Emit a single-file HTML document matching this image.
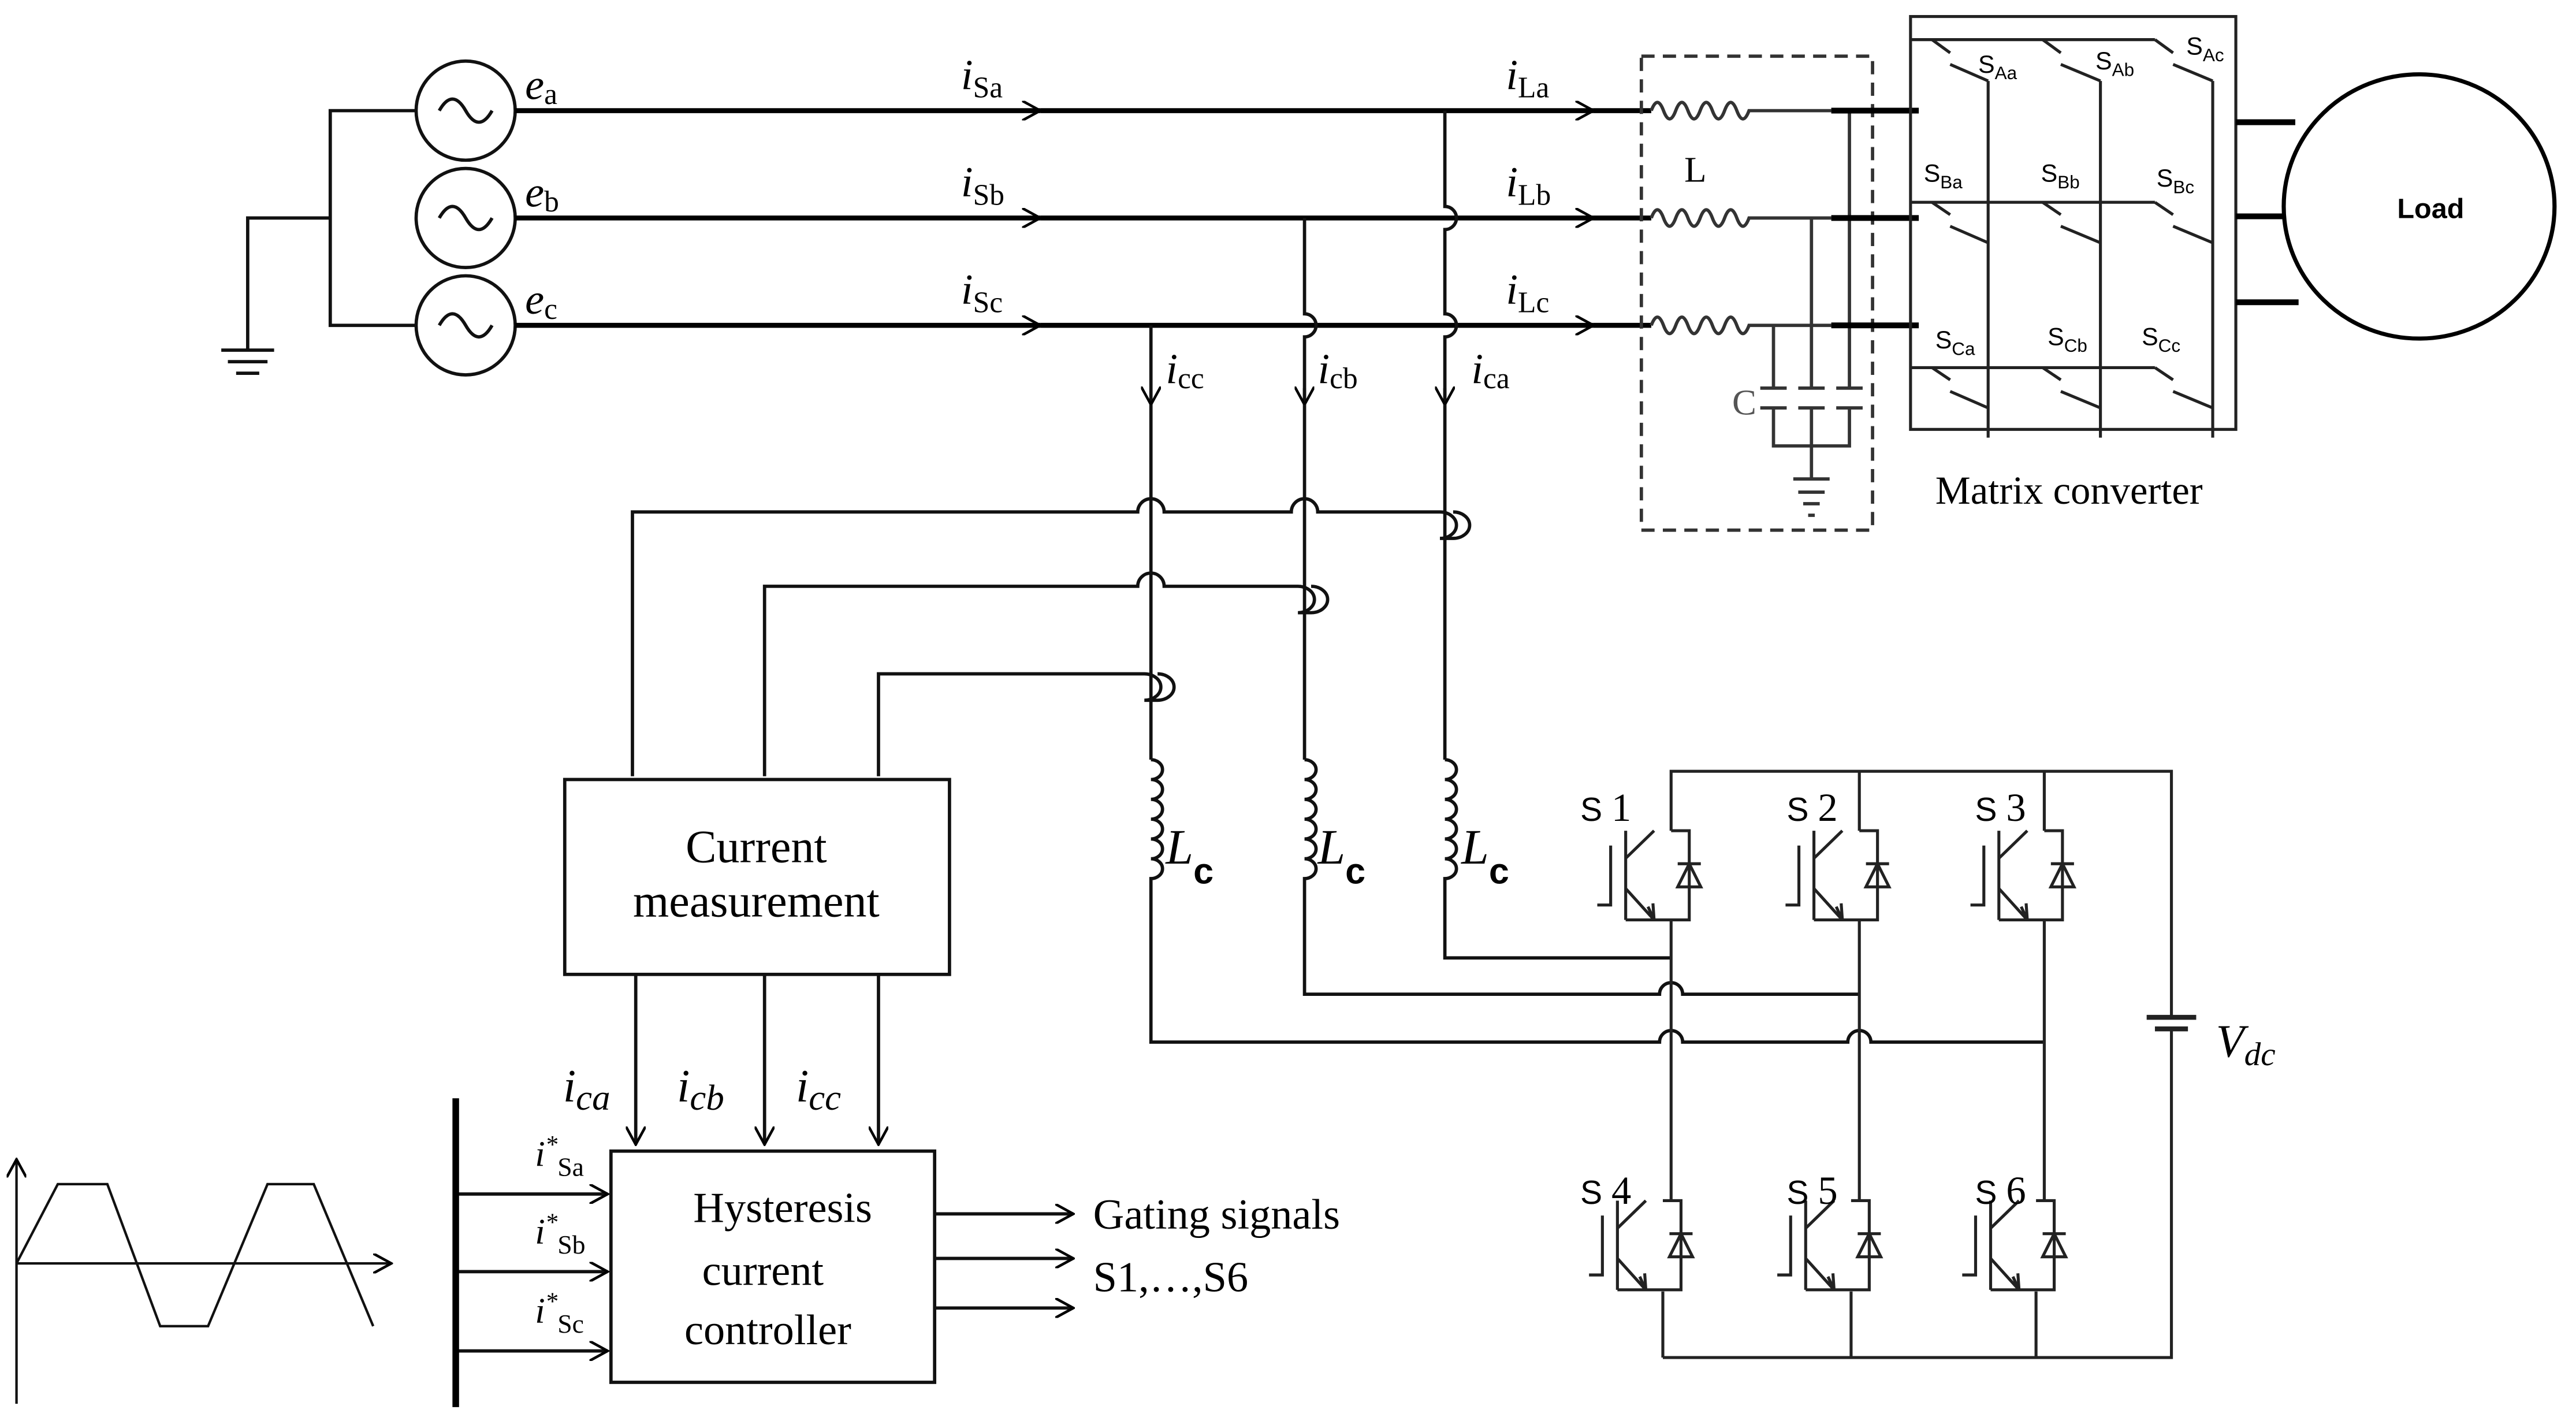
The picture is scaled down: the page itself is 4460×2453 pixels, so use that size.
<!DOCTYPE html>
<html><head><meta charset="utf-8"><style>
html,body{margin:0;padding:0;background:#fff}
svg{display:block}
.s{font-family:"Liberation Serif",serif}
.a{font-family:"Liberation Sans",sans-serif}
</style></head><body>
<svg width="4460" height="2453" viewBox="0 0 1560 858" preserveAspectRatio="none" xmlns="http://www.w3.org/2000/svg">
<defs>
<marker id="ar" viewBox="0 0 12 12" refX="11" refY="6" markerWidth="12" markerHeight="12" markerUnits="userSpaceOnUse" orient="auto">
<path d="M0,0 L11,6 L0,12" fill="none" stroke="#000" stroke-width="1.6"/></marker>
<g id="igbt" fill="none" stroke="#222" stroke-width="1.8">
<path d="M0,0 H11 V54 H-27.5 M-27.5,0 V54 M-27.5,16.7 L-10.3,0 M-27.5,35 L-10.3,54 M-14,46 L-10.3,54 L-11,44 M-36.6,9 V45 H-44.7"/>
<path d="M4,20 H18 M11,20 L4,34 H18 Z"/>
</g>
</defs>
<rect width="1560" height="858" fill="#fff"/>
<g fill="none" stroke="#111" stroke-width="2">
<path d="M252,67 H200 V197 H252 M200,132 H150 V212"/>
<path d="M134,212 H166 M138,219 H162 M143,226 H157"/>
<circle cx="282" cy="67" r="30"/><circle cx="282" cy="132" r="30"/><circle cx="282" cy="197" r="30"/>
<path d="M266,67 q8,-14 16,0 t16,0 M266,132 q8,-14 16,0 t16,0 M266,197 q8,-14 16,0 t16,0"/>
</g>
<g fill="none" stroke="#000" stroke-width="3">
<path d="M312,67 H630" marker-end="url(#ar)"/><path d="M630,67 H965" marker-end="url(#ar)"/><path d="M965,67 H1000"/>
<path d="M312,132 H630" marker-end="url(#ar)"/><path d="M630,132 H965" marker-end="url(#ar)"/><path d="M965,132 H1000"/>
<path d="M312,197 H630" marker-end="url(#ar)"/><path d="M630,197 H965" marker-end="url(#ar)"/><path d="M965,197 H1000"/>
</g>
<g fill="none" stroke="#111" stroke-width="2">
<path d="M875,67 V125 a7,7 0 0 1 0,14 V190 a7,7 0 0 1 0,14 V245" /><path d="M875,235 V245" marker-end="url(#ar)"/>
<path d="M790,132 V190 a7,7 0 0 1 0,14 V245" /><path d="M790,235 V245" marker-end="url(#ar)"/>
<path d="M697,197 V245" marker-end="url(#ar)"/>
<path d="M697,245 V460 M790,245 V460 M875,245 V460"/>
<path d="M697,460 a7,6 0 0 1 0,12 a7,6 0 0 1 0,12 a7,6 0 0 1 0,12 a7,6 0 0 1 0,12 a7,6 0 0 1 0,12 a7,6 0 0 1 0,12 V631 H1005 a7,7 0 0 1 14,0 H1119 a7,7 0 0 1 14,0 H1238"/>
<path d="M790,460 a7,6 0 0 1 0,12 a7,6 0 0 1 0,12 a7,6 0 0 1 0,12 a7,6 0 0 1 0,12 a7,6 0 0 1 0,12 a7,6 0 0 1 0,12 V602 H1005 a7,7 0 0 1 14,0 H1126"/>
<path d="M875,460 a7,6 0 0 1 0,12 a7,6 0 0 1 0,12 a7,6 0 0 1 0,12 a7,6 0 0 1 0,12 a7,6 0 0 1 0,12 a7,6 0 0 1 0,12 V580 H1012"/>
<path d="M383,470 V310 H689 a8,8 0 0 1 16,0 H782 a8,8 0 0 1 16,0 H872 a10,8 0 0 1 0,16 H880 a10,8 0 0 0 0,-16"/>
<path d="M463,470 V355 H689 a8,8 0 0 1 16,0 H786 a10,8 0 0 1 0,16 H794 a10,8 0 0 0 0,-16"/>
<path d="M532,470 V408 H693 a10,8 0 0 1 0,16 H701 a10,8 0 0 0 0,-16"/>
<rect x="342" y="472" width="233" height="118"/>
<path d="M385,590 V693" marker-end="url(#ar)"/><path d="M463,590 V693" marker-end="url(#ar)"/><path d="M532,590 V693" marker-end="url(#ar)"/>
<rect x="370" y="697" width="196" height="140"/>
<path d="M276,723 H368" marker-end="url(#ar)"/><path d="M276,770 H368" marker-end="url(#ar)"/><path d="M276,818 H368" marker-end="url(#ar)"/>
<path d="M566,735 H650" marker-end="url(#ar)"/><path d="M566,762 H650" marker-end="url(#ar)"/><path d="M566,792 H650" marker-end="url(#ar)"/>
<path d="M10,850 V702" marker-end="url(#ar)" stroke-width="1.5"/><path d="M10,765 H237" marker-end="url(#ar)" stroke-width="1.5"/>
<path d="M10,765 L35,717 H65 L97,803 H126 L162,717 H190 L226,803" stroke-width="1.5"/>
</g>
<path d="M276,665 V852" stroke="#000" stroke-width="4"/>
<g fill="none" stroke="#222" stroke-width="1.8">
<path d="M1012,503 V467 H1315 V616 M1315,623 V822 H1007 M1126,467 V503 M1238,467 V503"/>
<path d="M1300,616 H1330 M1305,623 H1325" stroke-width="3"/>
<path d="M1012,557 V727 M1126,557 V727 M1238,557 V727"/>
<path d="M1007,782 V822 M1121,782 V822 M1233,782 V822"/>
</g>
<use href="#igbt" x="1012" y="503"/><use href="#igbt" x="1126" y="503"/><use href="#igbt" x="1238" y="503"/>
<use href="#igbt" x="1007" y="727"/><use href="#igbt" x="1121" y="727"/><use href="#igbt" x="1233" y="727"/>
<g fill="none" stroke="#333" stroke-width="2">
<rect x="994" y="34" width="140" height="287" stroke-dasharray="8,5"/>
<path d="M1000,67 q3.7,-10 7.4,0 t7.4,0 t7.4,0 t7.4,0 t7.4,0 t7.4,0 t7.4,0 t7.4,0 H1109"/>
<path d="M1000,132 q3.7,-10 7.4,0 t7.4,0 t7.4,0 t7.4,0 t7.4,0 t7.4,0 t7.4,0 t7.4,0 H1109"/>
<path d="M1000,197 q3.7,-10 7.4,0 t7.4,0 t7.4,0 t7.4,0 t7.4,0 t7.4,0 t7.4,0 t7.4,0 H1109"/>
<path d="M1120,67 V235 M1097,132 V235 M1074,197 V235 M1066,235 H1082 M1089,235 H1105 M1112,235 H1128 M1066,247 H1082 M1089,247 H1105 M1112,247 H1128 M1074,247 V270 H1120 V247 M1097,247 V290"/>
<path d="M1086,290 H1108 M1089,298 H1105 M1092,305 H1102 M1095,312 H1099"/>
</g>
<path d="M1109,67 H1162 M1109,132 H1162 M1109,197 H1162" stroke="#000" stroke-width="3.5"/>
<g fill="none" stroke="#222" stroke-width="1.8">
<rect x="1157" y="10" width="197" height="250"/>
<path d="M1204,49 V265 M1272,49 V265 M1340,49 V265"/>
<path d="M1157,24 H1305 M1157,122.5 H1305 M1157,222.6 H1305"/>
<path d="M1170,24 L1181,32 M1181,39 L1204,49 M1237,24 L1248,32 M1248,39 L1272,49 M1305,24 L1316,32 M1316,39 L1340,49"/>
<path d="M1170,122.5 L1181,130 M1181,137 L1204,147 M1237,122.5 L1248,130 M1248,137 L1272,147 M1305,122.5 L1316,130 M1316,137 L1340,147"/>
<path d="M1170,222.6 L1181,230 M1181,237 L1204,247 M1237,222.6 L1248,230 M1248,237 L1272,247 M1305,222.6 L1316,230 M1316,237 L1340,247"/>
<ellipse cx="1465" cy="125" rx="82" ry="80" stroke="#000" stroke-width="2.5"/>
</g>
<path d="M1354,74 H1390 M1354,131 H1383 M1354,183 H1392" stroke="#000" stroke-width="3.5"/>
<g class="s" font-style="italic" font-size="26" fill="#000">
<text x="318" y="60">e<tspan font-size="18" dy="3" font-style="normal">a</tspan></text>
<text x="318" y="125">e<tspan font-size="18" dy="3" font-style="normal">b</tspan></text>
<text x="318" y="190">e<tspan font-size="18" dy="3" font-style="normal">c</tspan></text>
<text x="582" y="54">i<tspan font-size="18" dy="5" font-style="normal">Sa</tspan></text>
<text x="582" y="119">i<tspan font-size="18" dy="5" font-style="normal">Sb</tspan></text>
<text x="582" y="184">i<tspan font-size="18" dy="5" font-style="normal">Sc</tspan></text>
<text x="912" y="54">i<tspan font-size="18" dy="5" font-style="normal">La</tspan></text>
<text x="912" y="119">i<tspan font-size="18" dy="5" font-style="normal">Lb</tspan></text>
<text x="912" y="184">i<tspan font-size="18" dy="5" font-style="normal">Lc</tspan></text>
<text x="706" y="232">i<tspan font-size="18" dy="3" font-style="normal">cc</tspan></text>
<text x="798" y="232">i<tspan font-size="18" dy="3" font-style="normal">cb</tspan></text>
<text x="891" y="232">i<tspan font-size="18" dy="3" font-style="normal">ca</tspan></text>
<text x="706" y="523" font-size="30">L<tspan class="a" font-style="normal" font-weight="bold" font-size="22" dy="12">c</tspan></text>
<text x="798" y="523" font-size="30">L<tspan class="a" font-style="normal" font-weight="bold" font-size="22" dy="12">c</tspan></text>
<text x="885" y="523" font-size="30">L<tspan class="a" font-style="normal" font-weight="bold" font-size="22" dy="12">c</tspan></text>
<text x="341" y="667" font-size="28">i<tspan font-size="22" dy="5">ca</tspan></text>
<text x="410" y="667" font-size="28">i<tspan font-size="22" dy="5">cb</tspan></text>
<text x="482" y="667" font-size="28">i<tspan font-size="22" dy="5">cc</tspan></text>
<text x="324" y="706" font-size="22">i<tspan font-size="15" dy="-8">*</tspan><tspan font-size="16" dy="14" font-style="normal">Sa</tspan></text>
<text x="324" y="753" font-size="22">i<tspan font-size="15" dy="-8">*</tspan><tspan font-size="16" dy="14" font-style="normal">Sb</tspan></text>
<text x="324" y="801" font-size="22">i<tspan font-size="15" dy="-8">*</tspan><tspan font-size="16" dy="14" font-style="normal">Sc</tspan></text>
<text x="1342" y="640" font-size="28">V<tspan font-size="20" dy="5">dc</tspan></text>
</g>
<g class="s" fill="#000" font-size="28" text-anchor="middle">
<text x="458" y="522">Current</text><text x="458" y="555">measurement</text>
<text x="474" y="740" font-size="26">Hysteresis</text>
<text x="462" y="778" font-size="26">current</text>
<text x="465" y="814" font-size="26">controller</text>
</g>
<g class="s" fill="#000" font-size="26">
<text x="662" y="744">Gating signals</text>
<text x="662" y="782">S1,…,S6</text>
<text x="1172" y="305" font-size="24">Matrix converter</text>
<text x="1020" y="110" font-size="22">L</text>
<text x="1049" y="251" font-size="22" fill="#555">C</text>
</g>
<g class="a" fill="#000" font-size="20">
<text x="957" y="497">S <tspan class="s" font-size="24">1</tspan></text>
<text x="1082" y="497">S <tspan class="s" font-size="24">2</tspan></text>
<text x="1196" y="497">S <tspan class="s" font-size="24">3</tspan></text>
<text x="957" y="729">S <tspan class="s" font-size="24">4</tspan></text>
<text x="1082" y="729">S <tspan class="s" font-size="24">5</tspan></text>
<text x="1196" y="729">S <tspan class="s" font-size="24">6</tspan></text>
</g>
<g class="a" fill="#000" font-size="15">
<text x="1198" y="44">S<tspan font-size="11" dy="4">Aa</tspan></text>
<text x="1269" y="42">S<tspan font-size="11" dy="4">Ab</tspan></text>
<text x="1324" y="33">S<tspan font-size="11" dy="4">Ac</tspan></text>
<text x="1165" y="110">S<tspan font-size="11" dy="4">Ba</tspan></text>
<text x="1236" y="110">S<tspan font-size="11" dy="4">Bb</tspan></text>
<text x="1306" y="113">S<tspan font-size="11" dy="4">Bc</tspan></text>
<text x="1172" y="211">S<tspan font-size="11" dy="4">Ca</tspan></text>
<text x="1240" y="209">S<tspan font-size="11" dy="4">Cb</tspan></text>
<text x="1297" y="209">S<tspan font-size="11" dy="4">Cc</tspan></text>
<text x="1472" y="132" font-size="17" font-weight="bold" text-anchor="middle">Load</text>
</g>
</svg>
</body></html>
